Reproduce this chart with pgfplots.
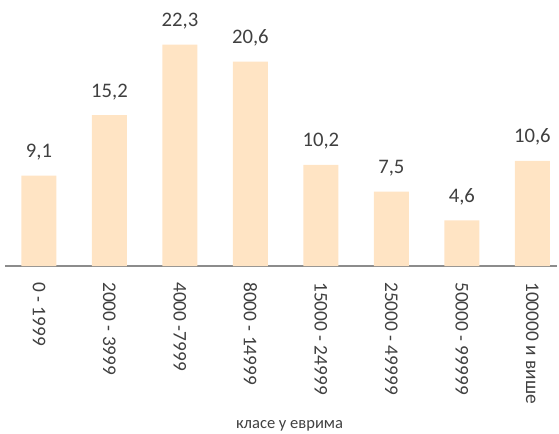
\documentclass[border=0pt]{standalone}
\usepackage{pgfplots}
\pgfplotsset{compat=1.18}
\usepackage{fontspec}
\setmainfont{Carlito}
\definecolor{barc}{HTML}{FFE4C4}
\definecolor{txt}{HTML}{404040}
\definecolor{axc}{HTML}{8C8C8C}
\begin{document}
\begin{tikzpicture}
\useasboundingbox (-3.75pt,-125.25pt) rectangle (415.5pt,199.5pt);
\begin{axis}[
  at={(0pt,0pt)}, anchor=south west, scale only axis,
  width=414pt, height=199.5pt,
  xmin=-0.482, xmax=7.35, ymin=0, ymax=26.8,
  axis y line=none, axis x line*=bottom,
  x axis line style={draw=axc, line width=1.1pt},
  xtick={0,...,7},
  xticklabels={0 - 1999, 2000 - 3999, 4000 -7999, 8000 - 14999, 15000 - 24999, 25000 - 49999, 50000 - 99999, 100000 и више},
  major tick length=0pt,
  xticklabel style={rotate=-90, anchor=west, inner sep=0pt, font=\fontsize{14.5}{17}\selectfont, text=txt},
  xticklabel shift=12pt,
  ybar, bar width=26.25pt,
  nodes near coords,
  nodes near coords style={anchor=base, yshift=13.5pt, font=\fontsize{15.5}{18}\selectfont, text=txt},
  clip=false,
  /pgf/number format/.cd, use comma, fixed, fixed zerofill, precision=1, assume math mode=true
]
\addplot[fill=barc, draw=none] coordinates {
  (0,9.1) (1,15.2) (2,22.3) (3,20.6) (4,10.2) (5,7.5) (6,4.6) (7,10.6)
};
\end{axis}
\node[anchor=base, font=\fontsize{12.4}{15}\selectfont, text=txt] at (213.4pt,-121.5pt) {класе у еврима};
\end{tikzpicture}
\end{document}
